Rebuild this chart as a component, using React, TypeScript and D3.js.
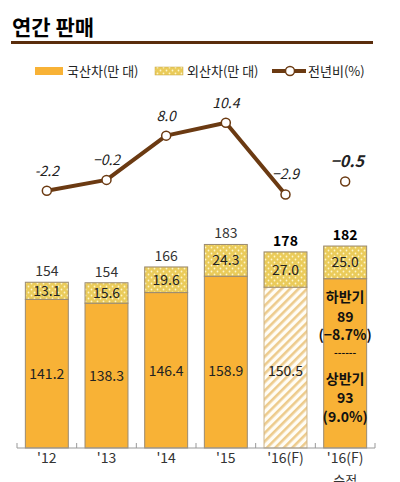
import React from "react";
import * as d3 from "d3";

const categories = ["'12", "'13", "'14", "'15", "'16(F)", "'16(F)"];
const domestic = [141.2, 138.3, 146.4, 158.9, 150.5, 157];
const imported = [13.1, 15.6, 19.6, 24.3, 27.0, 25.0];
const totals = ["154", "154", "166", "183", "178", "182"];
const totalBold = [false, false, false, false, true, true];
const yoy = [-2.2, -0.2, 8.0, 10.4, -2.9, -0.5];
const yoyLabels = ["-2.2", "\u22120.2", "8.0", "10.4", "\u22122.9", "\u22120.5"];
const connected = [true, true, true, true, true, false];
const legendItems = ["국산차(만 대)", "외산차(만 대)", "전년비(%)"];
const bar6Lines = ["하반기", "89", "(\u22128.7%)", "------", "상반기", "93", "(9.0%)"];

const FONT = "'Noto Sans CJK KR', 'Noto Sans', sans-serif";
const ORANGE = "#F8B236";
const BROWN = "#6B3A12";

export default function App() {
  const W = 400, H = 482;
  const x = d3.scaleBand<number>().domain(d3.range(categories.length)).range([17, 375]).paddingInner(0.28).paddingOuter(0.14);
  const y = d3.scaleLinear().domain([27.5, 200]).range([448, 222.5]);
  const yl = d3.scaleLinear().domain([-2.2, 10.4]).range([190.7, 122.7]);

  const linePts = yoy.map((v, i) => [x(i)! + x.bandwidth() / 2, yl(v)] as [number, number]);
  const lineGen = d3.line<[number, number]>().defined((_, i) => connected[i]);
  const step = x.step();

  return (
    <svg width={W} height={H} style={{ position: "absolute", left: 0, top: 0, background: "#fff" }} fontFamily={FONT}>
      <defs>
        <pattern id="dots" width="6" height="6" patternUnits="userSpaceOnUse">
          <rect width="6" height="6" fill="#EACB5A" />
          <circle cx="1.5" cy="1.5" r="0.9" fill="#FFF6C8" />
          <circle cx="4.5" cy="4.5" r="0.9" fill="#FFF6C8" />
        </pattern>
        <pattern id="hatch" width="6" height="6" patternUnits="userSpaceOnUse" patternTransform="rotate(45)">
          <rect width="6" height="6" fill="#FFFDF6" />
          <rect width="2.6" height="6" fill="#EDCB8C" />
        </pattern>
      </defs>

      <text x={12} y={35} fontSize={21} fontWeight="bold" fill="#000">연간 판매</text>
      <rect x={11} y={41} width={362} height={3} fill="#5A2D0C" />

      {/* legend */}
      <g fontSize={13} fill="#222">
        <rect x={35} y={67} width={28} height={8} fill={ORANGE} />
        <text x={67} y={76}>{legendItems[0]}</text>
        <rect x={155} y={67} width={28} height={8} fill="url(#dots)" stroke="#C8A848" strokeWidth={0.5} />
        <text x={187} y={76}>{legendItems[1]}</text>
        <line x1={272} x2={306} y1={71} y2={71} stroke={BROWN} strokeWidth={4} />
        <circle cx={290} cy={71} r={4.5} fill="#fff" stroke={BROWN} strokeWidth={1.5} />
        <text x={308} y={76}>{legendItems[2]}</text>
      </g>

      {/* bars */}
      {categories.map((c, i) => {
        const bx = x(i)!;
        const bw = x.bandwidth();
        const yDom = y(domestic[i]);
        const yTot = y(domestic[i] + imported[i]);
        const domFill = i === 4 ? "url(#hatch)" : ORANGE;
        const domStroke = i === 4 ? "#CDB58A" : "#9A8A72";
        const midDom = Math.max((yDom + y(27.5)) / 2, 371);
        return (
          <g key={i}>
            <rect x={bx} y={yDom} width={bw} height={y(27.5) - yDom} fill={domFill} stroke={domStroke} strokeWidth={1} />
            <rect x={bx} y={yTot} width={bw} height={yDom - yTot} fill="url(#dots)" stroke="#9A8A72" strokeWidth={1} />
            <text x={bx + bw / 2} y={(yTot + yDom) / 2 + 5} textAnchor="middle" fontSize={14} fill="#222">{imported[i].toFixed(1)}</text>
            {i < 5 && (
              <text x={bx + bw / 2} y={midDom + 5} textAnchor="middle" fontSize={14} fill="#222">{domestic[i].toFixed(1)}</text>
            )}
            <text x={bx + bw / 2} y={yTot - 6} textAnchor="middle" fontSize={14} fontWeight={totalBold[i] ? "bold" : "normal"} fill={totalBold[i] ? "#000" : "#333"}>{totals[i]}</text>
            <text x={bx + bw / 2} y={463} textAnchor="middle" fontSize={14} fill="#333">{c}</text>
          </g>
        );
      })}
      <text x={x(5)! + x.bandwidth() / 2} y={485} textAnchor="middle" fontSize={13} fill="#333">수정</text>

      {/* bar 6 inner annotations */}
      <g fontWeight="bold" fill="#111" textAnchor="middle">
        {bar6Lines.map((t, k) => {
          const ys = [302, 321.5, 340, 356, 384, 403, 422];
          return <text key={k} x={x(5)! + x.bandwidth() / 2} y={ys[k]} fontSize={t.startsWith("-") ? 10 : 14}>{t}</text>;
        })}
      </g>

      {/* axis */}
      <line x1={17} x2={375} y1={448} y2={448} stroke="#999" strokeWidth={1} />
      {d3.range(categories.length + 1).map((k) => (
        <line key={k} x1={17 + k * step} x2={17 + k * step} y1={443} y2={448} stroke="#999" strokeWidth={1} />
      ))}

      {/* line */}
      <path d={lineGen(linePts) || ""} fill="none" stroke={BROWN} strokeWidth={4} strokeLinejoin="round" />
      {linePts.map((p, i) => (
        <g key={i}>
          <circle cx={p[0]} cy={p[1]} r={4.5} fill="#fff" stroke={BROWN} strokeWidth={1.5} />
          <text x={p[0] + (i === 5 ? 2 : 0)} y={p[1] - 15} textAnchor="middle" fontStyle="italic" fontSize={i === 5 ? 16 : 14} fontWeight={i === 5 ? "bold" : "normal"} fill="#222">{yoyLabels[i]}</text>
        </g>
      ))}
    </svg>
  );
}
